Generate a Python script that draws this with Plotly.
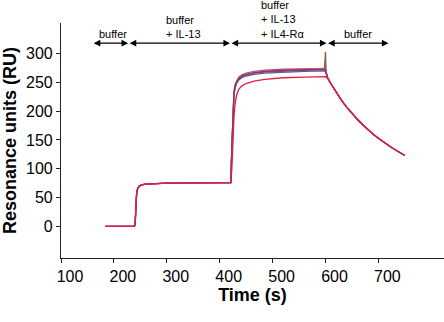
import plotly.graph_objects as go

# ---- data ----
time_s = [184, 200, 220, 238, 240, 241, 242, 243, 245, 248, 252, 260, 300, 360, 421,
          423, 425, 427, 429, 432, 436, 442, 450, 465, 485, 520, 560, 598,
          600, 601, 604, 610, 620, 630, 640, 650, 660, 670, 680, 690, 700, 710, 720, 730, 740, 750]

phase1 = [0, 0, -0.5, 0, 2, 20, 45, 58, 66, 70, 72, 73.5, 75, 75.5, 76]
decay = [258, 248, 233, 219, 207, 196, 186, 177, 168, 160, 153, 146, 140, 134, 128, 123]

run_brown = phase1 + [138, 203, 230, 242, 250, 256, 260, 263, 266, 268, 270, 271, 272, 303, 266] + decay
run_blue = phase1 + [135, 200, 228, 240, 248, 254, 258, 261, 264, 266, 268, 269, 270, 269, 266] + decay
run_pink = phase1 + [140, 208, 235, 246, 253, 259, 263, 266, 269, 271, 273, 274, 275, 274, 269] + decay
run_maroon = phase1 + [140, 205, 232, 243, 251, 257, 261, 264, 267, 269, 271, 272, 273, 272, 268] + decay
run_red = phase1 + [100, 150, 190, 212, 228, 238, 244, 248, 252, 255, 258, 259, 261, 260, 259] + [257] + decay[1:]

series = [
    ("run 1", run_brown, "#8a5a3a"),
    ("run 2", run_blue, "#5a5aa6"),
    ("run 3", run_pink, "#c2508c"),
    ("run 4", run_maroon, "#8e3462"),
    ("run 5", run_red, "#e01e44"),
]

x_ticks = [100, 200, 300, 400, 500, 600, 700]
y_ticks = [0, 50, 100, 150, 200, 250, 300]

phase_bounds = [159, 227, 419.5, 602, 719]
arrow_level = 318
label_level = 321  # bottom edge of the label blocks
labels = [
    # (text, time, xanchor)
    ("buffer", 198, "center"),
    ("buffer<br>+ IL-13", 296, "left"),
    ("buffer<br>+ IL-13<br>+ IL4-R\u03b1", 477, "left"),
    ("buffer", 661, "center"),
]

X_RANGE = [100, 824]
Y_RANGE = [-54.8, 353]
FONT = "Arial, 'Liberation Sans', sans-serif"


def to_paper(v):
    return (v - Y_RANGE[0]) / (Y_RANGE[1] - Y_RANGE[0])


fig = go.Figure()
for name, vals, col in series:
    fig.add_trace(go.Scatter(x=time_s, y=vals, mode="lines", name=name,
                             line=dict(color=col, width=1.3), showlegend=False))

anns = []
for a, b in zip(phase_bounds[:-1], phase_bounds[1:]):
    anns.append(dict(x=b, y=arrow_level, ax=a, ay=arrow_level, xref="x", yref="y",
                     axref="x", ayref="y", text="", showarrow=True,
                     arrowhead=2, arrowside="end+start", arrowsize=1.1,
                     arrowwidth=1.2, arrowcolor="black"))
for txt, tx, anc in labels:
    anns.append(dict(x=tx, y=to_paper(label_level), xref="x", yref="paper", text=txt,
                     showarrow=False, xanchor=anc, yanchor="bottom", align="left",
                     borderpad=0,
                     font=dict(family=FONT, size=11, color="black")))

fig.update_layout(
    width=444, height=322,
    margin=dict(l=61, r=0, t=23, b=64),
    paper_bgcolor="white", plot_bgcolor="white",
    font=dict(family=FONT, color="black"),
    annotations=anns,
)
fig.update_xaxes(
    range=X_RANGE, tickvals=x_ticks, showgrid=False, zeroline=False,
    showline=True, linecolor="#222", linewidth=1.2,
    ticks="outside", ticklen=4, tickcolor="#222",
    tickfont=dict(size=16, family=FONT, color="black"), ticklabelshift=9,
    title=dict(text="<b>Time (s)</b>", font=dict(size=18, family=FONT), standoff=4),
)
fig.update_yaxes(
    range=Y_RANGE, tickvals=y_ticks, showgrid=False, zeroline=False,
    showline=True, linecolor="#222", linewidth=1.2,
    ticks="outside", ticklen=4, tickcolor="#222",
    tickfont=dict(size=16, family=FONT, color="black"),
    title=dict(text="<b>Resonance units (RU)</b>", font=dict(size=18, family=FONT), standoff=4),
)

fig.write_html("out.html")
